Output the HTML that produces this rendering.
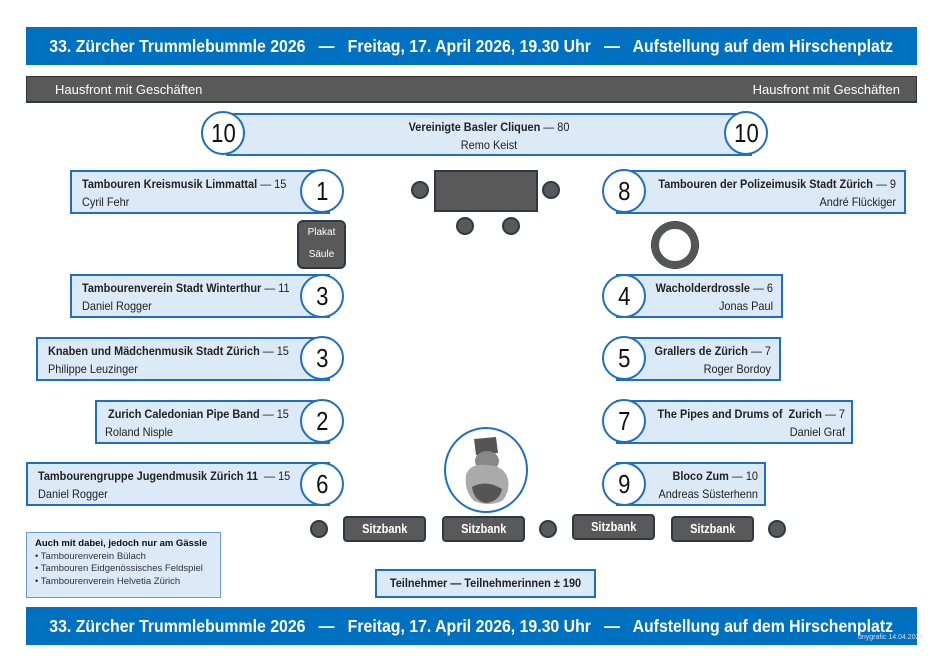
<!DOCTYPE html>
<html><head><meta charset="utf-8"><style>
*{margin:0;padding:0;box-sizing:border-box}
body{width:948px;height:670px;background:#fff;position:relative;overflow:hidden;font-family:"Liberation Sans",sans-serif;color:#222}
.a{position:absolute}
.bar{position:absolute;left:26px;width:891px;height:38px;background:#0070c0;color:#fff;font-weight:bold;font-size:17.5px;line-height:38px;text-align:center;white-space:pre;overflow:hidden}
.bar span{display:inline-block;transform:scaleX(0.905);transform-origin:center;margin:0 -60px}
.gray{position:absolute;left:26px;top:76px;width:891px;height:27px;background:#595959;border:1px solid #333;border-bottom:2px solid #2c3a45;color:#fff;font-size:13px;line-height:25px}
.box{position:absolute;background:#dce9f7;border:2px solid #1f6fc0;font-size:12px;line-height:18px;white-space:nowrap}
.box b{font-weight:bold}
.l>div{transform:scaleX(0.91);transform-origin:left top}
.r>div{transform:scaleX(0.91);transform-origin:right top}
.c>div{transform:scaleX(0.91);transform-origin:center top}
.circ{position:absolute;width:44px;height:44px;border-radius:50%;background:#fff;border:2px solid #1f6fc0;font-size:26px;line-height:40px;text-align:center;color:#111}
.circ span{display:inline-block;transform:scaleX(0.85)}
.dot{position:absolute;width:18px;height:18px;border-radius:50%;background:#595959;border:2px solid #2c3a45}
.bench{position:absolute;width:83px;height:26px;background:#595959;border:2px solid #2c3a45;border-radius:4px;color:#fff;font-weight:bold;font-size:12.5px;text-align:center;line-height:22px}
.bench span{display:inline-block;transform:scaleX(0.88)}
</style></head><body>
<div class="bar" style="top:27px"><span>33. Zürcher Trummlebummle 2026   —   Freitag, 17. April 2026, 19.30 Uhr   —   Aufstellung auf dem Hirschenplatz</span></div>
<div class="gray"><span class="a" style="left:28px">Hausfront mit Geschäften</span><span class="a" style="right:16px">Hausfront mit Geschäften</span></div>

<div class="box c" style="left:226px;top:113px;width:526px;height:43px;text-align:center;padding-top:3px"><div><b>Vereinigte Basler Cliquen</b> — 80<br>Remo Keist</div></div>
<div class="circ" style="left:201px;top:111px"><span>10</span></div>
<div class="circ" style="left:724px;top:111px"><span>10</span></div>

<div class="box l" style="left:70px;top:170px;width:260px;height:44px;padding:3px 0 0 10px"><div><b>Tambouren Kreismusik Limmattal</b> — 15<br>Cyril Fehr</div></div>
<div class="circ" style="left:300px;top:169px"><span>1</span></div>
<div class="box l" style="left:70px;top:274px;width:260px;height:44px;padding:3px 0 0 10px"><div><b>Tambourenverein Stadt Winterthur</b> — 11<br>Daniel Rogger</div></div>
<div class="circ" style="left:300px;top:274px"><span>3</span></div>
<div class="box l" style="left:36px;top:337px;width:294px;height:44px;padding:3px 0 0 10px"><div><b>Knaben und Mädchenmusik Stadt Zürich</b> — 15<br>Philippe Leuzinger</div></div>
<div class="circ" style="left:300px;top:336px"><span>3</span></div>
<div class="box l" style="left:95px;top:400px;width:235px;height:44px;padding:3px 0 0 8px"><div><b>&nbsp;Zurich Caledonian Pipe Band</b> — 15<br>Roland Nisple</div></div>
<div class="circ" style="left:300px;top:399px"><span>2</span></div>
<div class="box l" style="left:26px;top:462px;width:304px;height:44px;padding:3px 0 0 10px"><div><b>Tambourengruppe Jugendmusik Zürich 11</b>&nbsp; — 15<br>Daniel Rogger</div></div>
<div class="circ" style="left:300px;top:462px"><span>6</span></div>

<div class="box r" style="left:616px;top:170px;width:290px;height:44px;padding:3px 8px 0 0;text-align:right"><div><b>Tambouren der Polizeimusik Stadt Zürich</b> — 9<br>André Flückiger</div></div>
<div class="circ" style="left:602px;top:169px"><span>8</span></div>
<div class="box r" style="left:616px;top:274px;width:167px;height:44px;padding:3px 8px 0 0;text-align:right"><div><b>Wacholderdrossle</b> — 6<br>Jonas Paul</div></div>
<div class="circ" style="left:602px;top:274px"><span>4</span></div>
<div class="box r" style="left:616px;top:337px;width:165px;height:44px;padding:3px 8px 0 0;text-align:right"><div><b>Grallers de Zürich</b> — 7<br>Roger Bordoy</div></div>
<div class="circ" style="left:602px;top:336px"><span>5</span></div>
<div class="box r" style="left:616px;top:400px;width:237px;height:44px;padding:3px 6px 0 0;text-align:right"><div><b>The Pipes and Drums of &nbsp;Zurich</b> — 7<br>Daniel Graf</div></div>
<div class="circ" style="left:602px;top:399px"><span>7</span></div>
<div class="box r" style="left:616px;top:462px;width:150px;height:44px;padding:3px 6px 0 0;text-align:right"><div><b>Bloco Zum</b> — 10<br>Andreas Süsterhenn</div></div>
<div class="circ" style="left:602px;top:462px"><span>9</span></div>

<div class="a" style="left:434px;top:170px;width:104px;height:42px;background:#595959;border:2px solid #2c3a45"></div>
<div class="dot" style="left:411px;top:181px"></div>
<div class="dot" style="left:542px;top:181px"></div>
<div class="dot" style="left:456px;top:217px"></div>
<div class="dot" style="left:502px;top:217px"></div>
<div class="a" style="left:652px;top:222px;width:46px;height:46px;border-radius:50%;border:7px solid #555;box-shadow:0 0 0 1px #2c3a45"></div>
<div class="a" style="left:297px;top:220px;width:49px;height:49px;background:#595959;border:2px solid #2c3a45;border-radius:6px;color:#fff;font-size:10px;text-align:center;line-height:22px">Plakat<br>Säule</div>

<svg class="a" style="left:444px;top:427px" width="86" height="86" viewBox="0 0 86 86">
<ellipse cx="42" cy="43" rx="41" ry="42" fill="#fff" stroke="#1f6fc0" stroke-width="2"/>
<path d="M30 12 L52 10 L54 26 L32 28Z" fill="#555"/>
<ellipse cx="43" cy="34" rx="12" ry="10" fill="#888"/>
<path d="M22 48 Q26 36 42 38 Q60 38 64 52 Q66 66 58 74 Q44 80 30 74 Q20 64 22 48Z" fill="#aaa"/>
<path d="M28 60 Q42 52 58 62 Q56 74 42 76 Q30 74 28 60Z" fill="#555"/>
</svg>

<div class="dot" style="left:310px;top:520px"></div>
<div class="dot" style="left:539px;top:520px"></div>
<div class="dot" style="left:768px;top:520px"></div>
<div class="bench" style="left:343px;top:516px"><span>Sitzbank</span></div>
<div class="bench" style="left:442px;top:516px"><span>Sitzbank</span></div>
<div class="bench" style="left:572px;top:514px"><span>Sitzbank</span></div>
<div class="bench" style="left:671px;top:516px"><span>Sitzbank</span></div>

<div class="a" style="left:26px;top:532px;width:195px;height:66px;background:#dce9f7;border:1px solid #6c9bd2;padding:5px 0 0 8px;font-size:9.5px;line-height:12.5px;color:#333"><b style="color:#111">Auch mit dabei, jedoch nur am Gässle</b><br>• Tambourenverein Bülach<br>• Tambouren Eidgenössisches Feldspiel<br>• Tambourenverein Helvetia Zürich</div>
<div class="box c" style="left:375px;top:569px;width:221px;height:29px;text-align:center;line-height:25px;font-weight:bold"><div>Teilnehmer — Teilnehmerinnen ± 190</div></div>

<div class="bar" style="top:607px"><span>33. Zürcher Trummlebummle 2026   —   Freitag, 17. April 2026, 19.30 Uhr   —   Aufstellung auf dem Hirschenplatz</span></div>
<div class="a" style="left:858px;top:634px;font-size:7px;color:#dde">unygrafic 14.04.2026</div>
</body></html>
